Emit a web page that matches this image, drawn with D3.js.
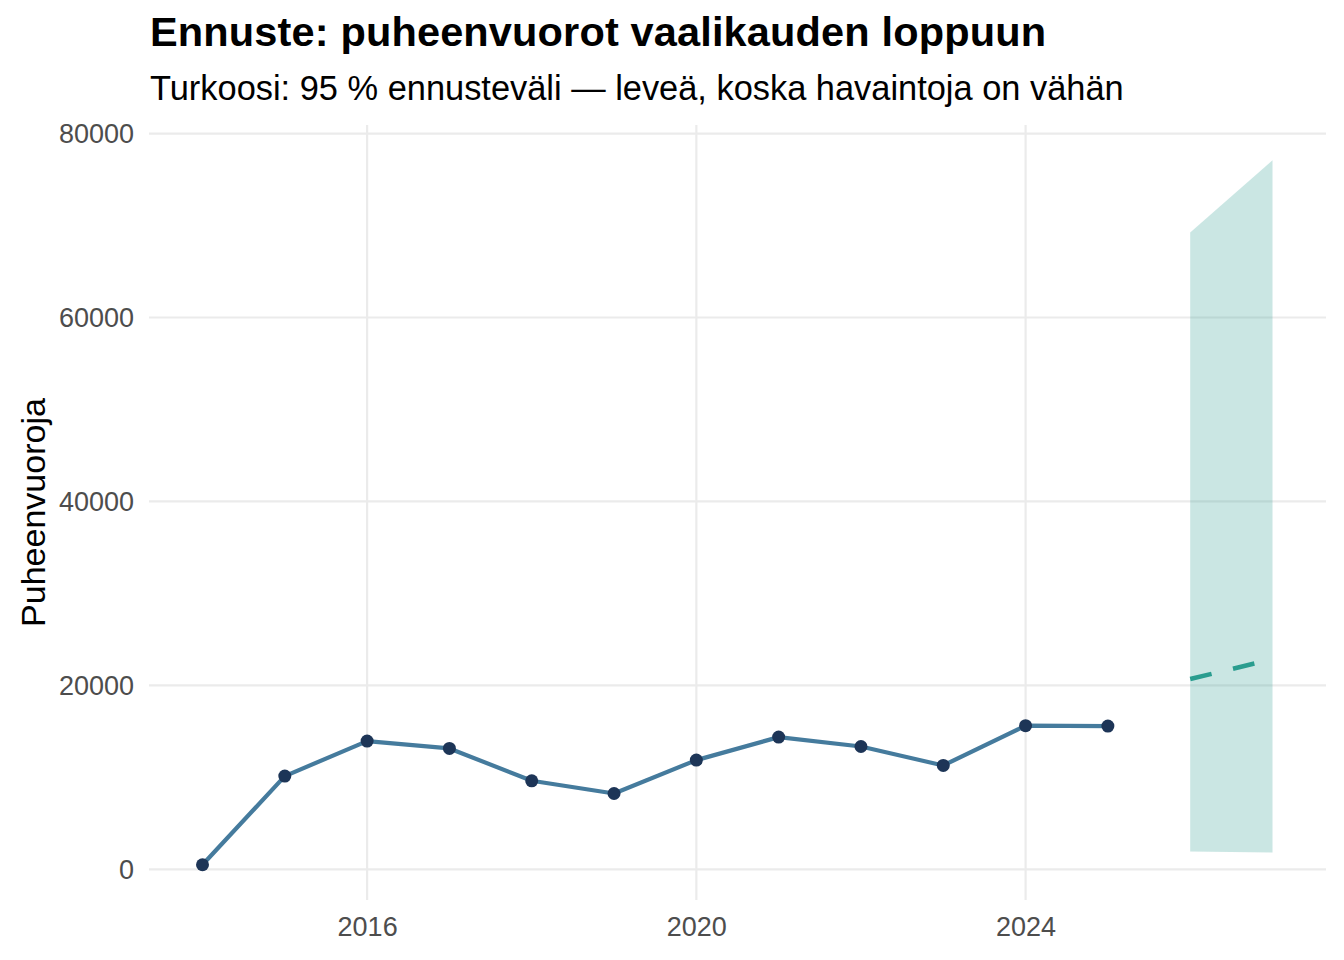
<!DOCTYPE html>
<html>
  <head>
    <meta charset="utf-8">
    <title>Ennuste: puheenvuorot</title>
    <style>
      body { margin: 0; background: #fff; }
      svg text { font-family: "Liberation Sans", Arial, sans-serif; }
    </style>
  </head>
  <body>
    <script src="https://cdn.jsdelivr.net/npm/d3@7"></script>
    <script type="text/javascript">
      // observed yearly counts
      var years = [2014, 2015, 2016, 2017, 2018, 2019, 2020, 2021, 2022, 2023, 2024, 2025];
      var speeches = [500, 10140, 13950, 13150, 9630, 8250, 11880, 14380, 13360, 11300, 15620, 15580];

      // forecast with 95 % interval
      var fcYears = [2026, 2027];
      var fcMean = [20700, 22850];
      var fcLower = [1940, 1830];
      var fcUpper = [69230, 77100];

      var xTicks = [2016, 2020, 2024];
      var yTicks = [0, 20000, 40000, 60000, 80000];

      var width = 1344;
      var height = 960;
      var panel = { left: 149, right: 1326, top: 125, bottom: 900 };

      var svg = d3.select("body")
                  .append("svg")
                  .attr("width", width)
                  .attr("height", height);

      // ggplot-like 5% expansion
      var xMin = d3.min(years), xMax = d3.max(fcYears);
      var xPad = (xMax - xMin) * 0.05;
      var xScale = d3.scaleLinear()
                     .domain([xMin - xPad, xMax + xPad])
                     .range([panel.left, panel.right]);

      var yMin = d3.min(speeches), yMax = d3.max(fcUpper);
      var yPad = (yMax - yMin) * 0.05;
      var yScale = d3.scaleLinear()
                     .domain([yMin - yPad, yMax + yPad])
                     .range([panel.bottom, panel.top]);

      // grid
      var grid = svg.append("g");
      grid.selectAll("line.h")
          .data(yTicks)
          .enter().append("line")
          .attr("x1", panel.left).attr("x2", panel.right)
          .attr("y1", function(d) { return yScale(d); })
          .attr("y2", function(d) { return yScale(d); })
          .attr("stroke", "#ebebeb").attr("stroke-width", 2.2);
      grid.selectAll("line.v")
          .data(xTicks)
          .enter().append("line")
          .attr("y1", panel.top).attr("y2", panel.bottom)
          .attr("x1", function(d) { return xScale(d); })
          .attr("x2", function(d) { return xScale(d); })
          .attr("stroke", "#ebebeb").attr("stroke-width", 2.2);

      // axes (labels only, no domain or ticks)
      var yAxis = svg.append("g")
                     .attr("transform", "translate(" + (panel.left - 15) + ",0)")
                     .call(d3.axisLeft(yScale).tickValues(yTicks).tickFormat(d3.format("d")).tickSize(0).tickPadding(0));
      var xAxis = svg.append("g")
                     .attr("transform", "translate(0," + (panel.bottom + 8) + ")")
                     .call(d3.axisBottom(xScale).tickValues(xTicks).tickFormat(d3.format("d")).tickSize(0).tickPadding(0));
      svg.selectAll(".domain").remove();
      svg.selectAll(".tick text")
         .attr("fill", "#4d4d4d")
         .style("font-size", "27px")
         .style("font-family", "Liberation Sans, Arial, sans-serif");
      xAxis.selectAll(".tick text").attr("dy", "0.71em").attr("y", 9);

      // forecast ribbon
      var fc = fcYears.map(function(y, i) {
        return { year: y, mean: fcMean[i], lo: fcLower[i], hi: fcUpper[i] };
      });
      var area = d3.area()
                   .x(function(d) { return xScale(d.year); })
                   .y0(function(d) { return yScale(d.lo); })
                   .y1(function(d) { return yScale(d.hi); });
      svg.append("path")
         .datum(fc)
         .attr("d", area)
         .attr("fill", "#2a9d8f")
         .attr("fill-opacity", 0.25);

      var fcLine = d3.line()
                     .x(function(d) { return xScale(d.year); })
                     .y(function(d) { return yScale(d.mean); });
      svg.append("path")
         .datum(fc)
         .attr("d", fcLine)
         .attr("fill", "none")
         .attr("stroke", "#2a9d8f")
         .attr("stroke-width", 4.5)
         .attr("stroke-dasharray", "22,22");

      // observed line + points
      var obs = years.map(function(y, i) { return { year: y, value: speeches[i] }; });
      var line = d3.line()
                   .x(function(d) { return xScale(d.year); })
                   .y(function(d) { return yScale(d.value); });
      svg.append("path")
         .datum(obs)
         .attr("d", line)
         .attr("fill", "none")
         .attr("stroke", "#457b9d")
         .attr("stroke-width", 4.2)
         .attr("stroke-linejoin", "round");
      svg.selectAll("circle")
         .data(obs)
         .enter().append("circle")
         .attr("cx", function(d) { return xScale(d.year); })
         .attr("cy", function(d) { return yScale(d.value); })
         .attr("r", 6.5)
         .attr("fill", "#1d3557");

      // texts
      svg.append("text")
         .attr("x", 150).attr("y", 46)
         .attr("font-weight", "bold")
         .style("font-size", "41.5px")
         .style("letter-spacing", "0.15px")
         .attr("fill", "#000")
         .text("Ennuste: puheenvuorot vaalikauden loppuun");
      svg.append("text")
         .attr("x", 150).attr("y", 100)
         .style("font-size", "34.4px")
         .attr("fill", "#000")
         .text("Turkoosi: 95 % ennusteväli — leveä, koska havaintoja on vähän");
      svg.append("text")
         .attr("transform", "translate(45," + ((panel.top + panel.bottom) / 2) + ") rotate(-90)")
         .attr("text-anchor", "middle")
         .style("font-size", "34px")
         .attr("fill", "#000")
         .text("Puheenvuoroja");
    </script>
  </body>
</html>
